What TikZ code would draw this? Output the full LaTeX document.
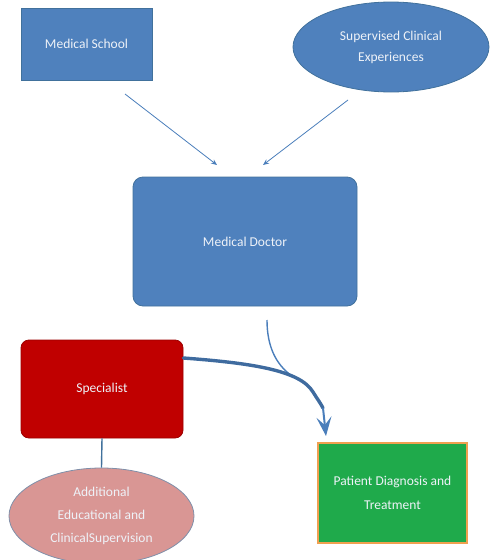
\documentclass[tikz,border=0pt]{standalone}
\usepackage{fontspec}
\setmainfont{Carlito}
\usetikzlibrary{arrows.meta,shapes.geometric}
\definecolor{bfill}{HTML}{4F81BD}
\definecolor{bline}{HTML}{41719C}
\definecolor{rfill}{HTML}{C00000}
\definecolor{rline}{HTML}{9C0000}
\definecolor{pfill}{HTML}{D99694}
\definecolor{pline}{HTML}{7F8FA9}
\definecolor{gfill}{HTML}{1FAA4B}
\definecolor{gline}{HTML}{F0A050}
\definecolor{arr}{HTML}{4A7EBB}
\definecolor{txt}{HTML}{EEF2F8}
\begin{document}
\begin{tikzpicture}[x=1pt,y=-1pt,
  lbl/.style={text=txt,font=\fontsize{13.5}{16}\selectfont,align=center,inner sep=0pt},
  bluebox/.style={lbl,fill=bfill,draw=bline,line width=0.8pt},
  thinarrow/.style={draw=arr,line width=0.8pt,-{Stealth[length=6pt,width=5pt]}},
]
\useasboundingbox (0,0) rectangle (491,560);
\node[bluebox,minimum width=131pt,minimum height=72pt] (ms) at (86.5,44) {Medical School};
\node[bluebox,ellipse,minimum width=196pt,minimum height=90pt] (sce) at (391,47) {Supervised Clinical\\[5pt]Experiences};
\node[bluebox,rounded corners=10pt,minimum width=224pt,minimum height=129pt] (md) at (245,241.5) {Medical Doctor};
\node[lbl,fill=rfill,draw=rline,line width=0.8pt,rounded corners=8pt,minimum width=162pt,minimum height=98pt] (sp) at (102,389) {Specialist};
\node[lbl,ellipse,fill=pfill,draw=pline,line width=0.8pt,minimum width=185pt,minimum height=96pt] (aes) at (101.5,516) {Additional\\[7pt]Educational and\\[7pt]ClinicalSupervision};
\node[lbl,fill=gfill,draw=gline,line width=1.2pt,minimum width=149pt,minimum height=100pt] (pdt) at (392.5,493) {Patient Diagnosis and\\[8pt]Treatment};
\coordinate (a1s) at (125,94);
\coordinate (a1e) at (217,165);
\coordinate (a2s) at (348,100);
\coordinate (a2e) at (263,165);
\draw[thinarrow] (a1s) -- (a1e);
\draw[thinarrow] (a2s) -- (a2e);
\draw[bline,line width=1.4pt] (sp.south) -- (aes.north);
\coordinate (mdl) at (267,320);
\coordinate (tip) at (326,436);
\coordinate (mrg) at (292,376);
\coordinate (nk2) at (323,408);
\draw[arr,line width=1.4pt] (mdl) .. controls (267,345) and (275,364) .. (mrg);
\draw[arr!85!black,line width=3.4pt,line cap=round] (sp.east |- 0,358) .. controls (250,363) and (300,370) .. (313,392) .. controls (318,400) and (321,404) .. (nk2);
\draw[arr,line width=2pt,-{Stealth[length=19pt,width=15pt,inset=8pt]}] (nk2) -- (tip);
\end{tikzpicture}
\end{document}
